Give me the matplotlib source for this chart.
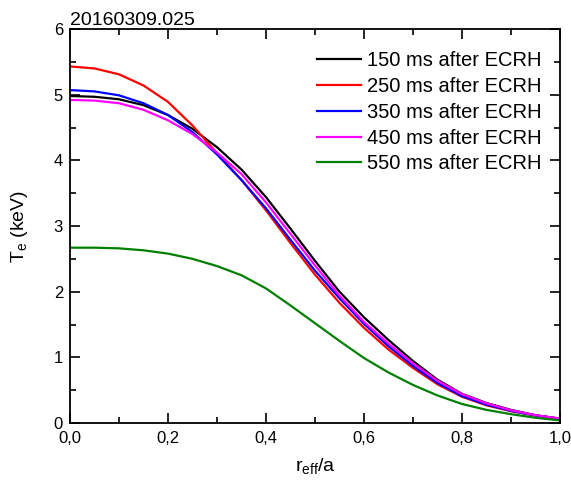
import matplotlib
matplotlib.use("Agg")
import matplotlib.pyplot as plt
from matplotlib.ticker import MultipleLocator

plt.rcParams["font.family"] = ["Liberation Sans", "DejaVu Sans"]
plt.rcParams["mathtext.fontset"] = "custom"
plt.rcParams["mathtext.rm"] = "Liberation Sans"
plt.rcParams["mathtext.it"] = "Liberation Sans"

# radius r_eff/a
r = [0.0, 0.05, 0.1, 0.15, 0.2, 0.25, 0.3, 0.35, 0.4, 0.45, 0.5,
     0.55, 0.6, 0.65, 0.7, 0.75, 0.8, 0.85, 0.9, 0.95, 1.0]

te_150 = [4.98, 4.968, 4.93, 4.84, 4.69, 4.48, 4.20, 3.86, 3.44, 2.96, 2.47,
          2.00, 1.61, 1.265, 0.945, 0.66, 0.445, 0.305, 0.20, 0.12, 0.065]
te_250 = [5.43, 5.40, 5.31, 5.14, 4.89, 4.53, 4.11, 3.70, 3.24, 2.74, 2.26,
          1.83, 1.45, 1.12, 0.84, 0.59, 0.40, 0.27, 0.18, 0.115, 0.07]
te_350 = [5.07, 5.05, 4.99, 4.87, 4.69, 4.43, 4.09, 3.70, 3.27, 2.79, 2.32,
          1.90, 1.51, 1.17, 0.87, 0.61, 0.41, 0.28, 0.185, 0.115, 0.065]
te_450 = [4.92, 4.91, 4.87, 4.77, 4.61, 4.40, 4.12, 3.79, 3.36, 2.88, 2.40,
          1.94, 1.54, 1.21, 0.91, 0.645, 0.44, 0.30, 0.195, 0.12, 0.065]
te_550 = [2.67, 2.67, 2.66, 2.63, 2.58, 2.50, 2.39, 2.25, 2.05, 1.79, 1.52,
          1.25, 0.99, 0.77, 0.58, 0.42, 0.29, 0.20, 0.135, 0.08, 0.04]

labels = ["150 ms after ECRH", "250 ms after ECRH", "350 ms after ECRH",
          "450 ms after ECRH", "550 ms after ECRH"]
colors = ["black", "red", "blue", "magenta", "green"]

x_ticks = [0.0, 0.2, 0.4, 0.6, 0.8, 1.0]
x_tick_labels = ["0,0", "0,2", "0,4", "0,6", "0,8", "1,0"]
y_ticks = [0, 1, 2, 3, 4, 5, 6]

fig = plt.figure(figsize=(5.71, 4.9), dpi=100)
ax = fig.add_axes([0.1226, 0.1367, 0.858, 0.8041])

for te, lab, c in zip([te_150, te_250, te_350, te_450, te_550], labels, colors):
    ax.plot(r, te, color=c, lw=1.6, label=lab)

ax.set_xlim(0, 1.0)
ax.set_ylim(0, 6)
ax.set_xticks(x_ticks)
ax.set_xticklabels(x_tick_labels)
ax.set_yticks(y_ticks)
ax.xaxis.set_minor_locator(MultipleLocator(0.1))
ax.yaxis.set_minor_locator(MultipleLocator(0.5))
ax.tick_params(which="both", direction="in", top=True, right=True,
               labelsize=12, width=1.2)
ax.tick_params(axis="x", pad=6)
ax.tick_params(axis="y", pad=5)
ax.tick_params(which="major", length=7)
ax.tick_params(which="minor", length=4)
for s in ax.spines.values():
    s.set_linewidth(1.3)

ax.set_xlabel(r"$\mathregular{r_{eff}}$/a", fontsize=14, labelpad=7)
ax.set_ylabel(r"$\mathregular{T_e}$ (keV)", fontsize=14, labelpad=17)
ax.set_title("20160309.025", loc="left", fontsize=14, pad=3)

ax.legend(loc="upper right", frameon=False, fontsize=14.5, handlelength=2.2,
          handletextpad=0.3, labelspacing=0.34, borderaxespad=0.5,
          bbox_to_anchor=(1.0, 0.99))

fig.savefig("out.png", dpi=100)
